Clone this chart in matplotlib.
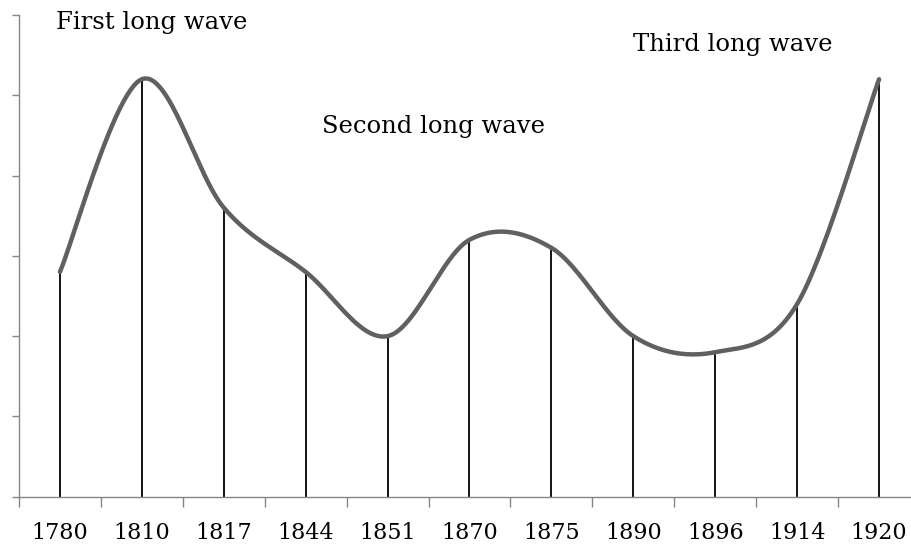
import numpy as np
import matplotlib.pyplot as plt

# category labels and values
years = ['1780', '1810', '1817', '1844', '1851', '1870', '1875',
         '1890', '1896', '1914', '1920']
values = [2.8, 5.2, 3.6, 2.8, 2.0, 3.2, 3.1, 2.0, 1.8, 2.4, 5.2]

wave_labels = ['First long wave', 'Second long wave', 'Third long wave']
wave_x = [1.12, 4.56, 8.22]
wave_y = [5.82, 4.53, 5.55]


def smooth(xs, ys, n=60):
    """Catmull-Rom style bezier smoothing, like a spreadsheet smoothed line."""
    xs = np.asarray(xs, float)
    ys = np.asarray(ys, float)
    px = np.concatenate([[xs[0]], xs, [xs[-1]]])
    py = np.concatenate([[ys[0]], ys, [ys[-1]]])
    out_x, out_y = [], []
    t = np.linspace(0, 1, n)
    for i in range(1, len(px) - 2):
        p0 = np.array([px[i], py[i]])
        p3 = np.array([px[i + 1], py[i + 1]])
        c1 = p0 + (np.array([px[i + 1], py[i + 1]]) - np.array([px[i - 1], py[i - 1]])) / 6
        c2 = p3 - (np.array([px[i + 2], py[i + 2]]) - np.array([px[i], py[i]])) / 6
        b = ((1 - t) ** 3)[:, None] * p0 + (3 * (1 - t) ** 2 * t)[:, None] * c1 \
            + (3 * (1 - t) * t ** 2)[:, None] * c2 + (t ** 3)[:, None] * p3
        out_x.extend(b[:, 0])
        out_y.extend(b[:, 1])
    return np.array(out_x), np.array(out_y)


plt.rcParams['font.family'] = ['DejaVu Serif']

fig = plt.figure(figsize=(9.11, 5.44), dpi=100)
ax = fig.add_axes([19 / 911, 47.3 / 544, 901 / 911, 481.7 / 544])

x = np.arange(len(years))
ax.vlines(x, 0, values, color='black', lw=1.3, zorder=2)
sx, sy = smooth(x, values)
ax.plot(sx, sy, color='#606060', lw=3.2, solid_capstyle='round', zorder=3)

for label, tx, ty in zip(wave_labels, wave_x, wave_y):
    ax.text(tx, ty, label, ha='center', va='baseline', fontsize=17.5, color='black')

ax.set_xlim(-0.5, len(years) - 0.5)
ax.set_ylim(0, 6)

ax.set_xticks(np.arange(len(years) + 1) - 0.5)
ax.set_xticklabels([])
ax.set_xticks(x, minor=True)
ax.set_xticklabels(years, minor=True, fontsize=16)
ax.tick_params(axis='x', which='minor', length=0, pad=18)
ax.tick_params(axis='x', which='major', length=7, width=1, color='#868686', direction='out')

ax.set_yticks(np.arange(0, 7))
ax.set_yticklabels([])
ax.tick_params(axis='y', length=5, width=1, color='#868686', direction='out')

for side in ['top', 'right']:
    ax.spines[side].set_visible(False)
for side in ['left', 'bottom']:
    ax.spines[side].set_color('#868686')
    ax.spines[side].set_linewidth(1)

fig.savefig('out.png', dpi=100)
